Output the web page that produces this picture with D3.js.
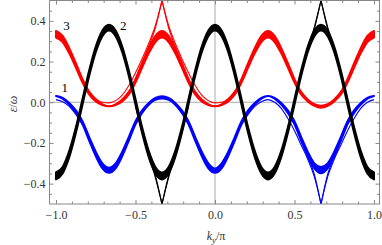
<html>
<head>
<script src="https://cdn.jsdelivr.net/npm/d3@7"></script>
<style>
  body { margin: 0; background: #fff; }
  svg text { font-family: "Liberation Serif", "DejaVu Serif", serif; }
</style>
</head>
<body>
<svg id="chart" width="382" height="245"></svg>
<script>
    // k_y/pi sample grid, step 1/24 from -1 to 1
    const kGrid = d3.range(49).map(i => -1 + i / 24)

    // band 2 (black): upper and lower edge of the bundle
    const blackHi = [-0.345,-0.318,-0.239,-0.123,0.016,0.156,0.274,0.353,0.381,0.353,0.274,0.156,0.016,-0.123,-0.239,-0.318,-0.345,
                     -0.318,-0.239,-0.123,0.016,0.156,0.274,0.353,0.381,0.353,0.274,0.156,0.016,-0.123,-0.239,-0.318,-0.345,
                     -0.318,-0.239,-0.123,0.016,0.156,0.274,0.353,0.381,0.353,0.274,0.156,0.016,-0.123,-0.239,-0.318,-0.345]
    const blackLo = [-0.379,-0.35,-0.27,-0.151,-0.012,0.128,0.246,0.325,0.353,0.325,0.246,0.128,-0.012,-0.151,-0.27,-0.35,-0.379,
                     -0.35,-0.27,-0.151,-0.012,0.128,0.246,0.325,0.353,0.325,0.246,0.128,-0.012,-0.151,-0.27,-0.35,-0.379,
                     -0.35,-0.27,-0.151,-0.012,0.128,0.246,0.325,0.353,0.325,0.246,0.128,-0.012,-0.151,-0.27,-0.35,-0.379]

    // band 3 (red)
    const redHi = [0.35,0.326,0.266,0.192,0.114,0.051,0.014,-0.01,-0.02,-0.01,0.014,0.051,0.114,0.192,0.266,0.326,0.35,
                   0.326,0.266,0.192,0.114,0.051,0.014,-0.01,-0.02,-0.01,0.014,0.051,0.114,0.192,0.266,0.326,0.35,
                   0.326,0.266,0.192,0.114,0.051,0.014,-0.01,-0.017,-0.01,0.014,0.051,0.114,0.192,0.266,0.326,0.35]
    const redLo = [0.318,0.296,0.24,0.17,0.097,0.038,0.004,-0.014,-0.02,-0.014,0.004,0.038,0.097,0.17,0.24,0.296,0.318,
                   0.296,0.24,0.17,0.097,0.038,0.004,-0.014,-0.02,-0.014,0.004,0.038,0.097,0.17,0.24,0.296,0.318,
                   0.296,0.24,0.17,0.097,0.038,0.004,-0.018,-0.027,-0.018,0.004,0.038,0.097,0.17,0.24,0.296,0.318]

    // band 1 (blue)
    const blueHi = [0.031,0.022,-0.003,-0.04,-0.093,-0.17,-0.243,-0.3,-0.322,-0.3,-0.243,-0.17,-0.093,-0.04,-0.003,0.021,0.03,
                    0.021,-0.003,-0.04,-0.093,-0.17,-0.243,-0.3,-0.325,-0.3,-0.243,-0.17,-0.093,-0.04,-0.003,0.022,0.031,
                    0.022,-0.003,-0.04,-0.093,-0.17,-0.243,-0.3,-0.318,-0.3,-0.243,-0.17,-0.093,-0.04,-0.003,0.022,0.031]
    const blueLo = [0.031,0.018,-0.012,-0.052,-0.108,-0.188,-0.265,-0.325,-0.347,-0.325,-0.265,-0.188,-0.108,-0.052,-0.012,0.012,0.018,
                    0.012,-0.012,-0.052,-0.108,-0.188,-0.265,-0.325,-0.347,-0.325,-0.265,-0.188,-0.108,-0.052,-0.012,0.018,0.031,
                    0.018,-0.012,-0.052,-0.108,-0.188,-0.265,-0.325,-0.349,-0.325,-0.265,-0.188,-0.108,-0.052,-0.012,0.018,0.031]

    // thin edge-state lines (pairs)
    const redEdgeK = kGrid.slice(4, 29)
    const redEdgeA = [0.11,0.055,0.018,0.0,-0.003,0.008,0.035,0.082,0.145,0.214,0.29,0.377,0.5,0.377,0.29,0.214,0.145,0.082,0.035,0.008,-0.003,0.0,0.018,0.055,0.11]
    const redEdgeB = [0.114,0.051,0.014,-0.01,-0.02,-0.01,0.014,0.052,0.115,0.195,0.275,0.365,0.5,0.365,0.275,0.195,0.115,0.052,0.014,-0.01,-0.02,-0.01,0.014,0.051,0.114]

    const blueEdgeK = kGrid.slice(28, 49)
    const blueEdgeA = [-0.11,-0.06,-0.02,0.003,0.013,0.0,-0.03,-0.08,-0.14,-0.21,-0.28,-0.367,-0.5,-0.367,-0.28,-0.21,-0.14,-0.08,-0.03,0.0,0.013]
    const blueEdgeB = [-0.108,-0.052,-0.012,0.018,0.031,0.018,-0.012,-0.052,-0.108,-0.188,-0.265,-0.355,-0.5,-0.355,-0.265,-0.188,-0.108,-0.052,-0.012,0.018,0.031]
    const blueWrapK = kGrid.slice(0, 5)
    const blueWrapA = [0.013,0.003,-0.02,-0.06,-0.11]
    const blueWrapB = [0.031,0.018,-0.012,-0.052,-0.108]

    const blackEdgeK1 = kGrid.slice(12, 21)
    const blackEdgeA1 = [-0.016,-0.15,-0.262,-0.37,-0.5,-0.37,-0.262,-0.15,-0.016]
    const blackEdgeB1 = [-0.005,-0.14,-0.25,-0.36,-0.5,-0.36,-0.25,-0.14,-0.005]
    const blackEdgeK2 = kGrid.slice(36, 45)
    const blackEdgeA2 = [0.016,0.15,0.262,0.37,0.5,0.37,0.262,0.15,0.016]
    const blackEdgeB2 = [0.005,0.14,0.25,0.36,0.5,0.36,0.25,0.14,0.005]

    const xMajor = [-1, -0.5, 0, 0.5, 1]
    const xMinor = [-0.9,-0.8,-0.7,-0.6,-0.4,-0.3,-0.2,-0.1,0.1,0.2,0.3,0.4,0.6,0.7,0.8,0.9]
    const yMajor = [-0.4, -0.2, 0, 0.2, 0.4]
    const yMinor = [-0.45,-0.35,-0.3,-0.25,-0.15,-0.1,-0.05,0.05,0.1,0.15,0.25,0.3,0.35,0.45]

    const curveLabels = [
        {text: "3", k: -0.955, e: 0.355},
        {text: "2", k: -0.597, e: 0.355},
        {text: "1", k: -0.966, e: 0.052}
    ]

    let svg = d3.select("#chart")
    let pLeft = 49.5, pRight = 379.5, pTop = 0.5, pBottom = 204
    let serif = "'Liberation Serif', 'DejaVu Serif', serif"

    let x = d3.scaleLinear().domain([-1, 1]).range([56, 374])
    let y = d3.scaleLinear().domain([-0.5, 0.5]).range([pBottom, pTop])

    svg.append("clipPath").attr("id", "clip")
        .append("rect").attr("x", pLeft).attr("y", 0)
        .attr("width", pRight - pLeft).attr("height", pBottom + 0.5)

    // zero lines
    svg.append("line").attr("x1", x(0)).attr("x2", x(0)).attr("y1", pTop).attr("y2", pBottom)
        .attr("stroke", "#aaa").attr("stroke-width", 1)
    svg.append("line").attr("x1", pLeft).attr("x2", pRight).attr("y1", y(0)).attr("y2", y(0))
        .attr("stroke", "#aaa").attr("stroke-width", 1)

    let plot = svg.append("g").attr("clip-path", "url(#clip)")

    function band(hi, lo, color) {
        let area = d3.area()
            .x((d, i) => x(kGrid[i]))
            .y0((d, i) => y(lo[i]))
            .y1((d, i) => y(hi[i]))
            .curve(d3.curveMonotoneX)
        plot.append("path").datum(hi)
            .attr("d", area)
            .attr("fill", color)
            .attr("stroke", color)
            .attr("stroke-width", 2)
            .attr("stroke-linejoin", "round")
    }

    function edge(ks, vals, color) {
        let pts = ks.map((k, i) => [k, vals[i]])
        let c = vals.findIndex(v => Math.abs(v) === 0.5)
        let parts = c < 0 ? [pts] : [pts.slice(0, c + 1), pts.slice(c)]
        let line = d3.line().x(d => x(d[0])).y(d => y(d[1])).curve(d3.curveMonotoneX)
        parts.forEach(p => {
            plot.append("path").attr("d", line(p))
                .attr("fill", "none").attr("stroke", color).attr("stroke-width", 1.1)
        })
    }

    band(blueHi, blueLo, "#0000ff")
    edge(blueEdgeK, blueEdgeA, "#0000ff")
    edge(blueEdgeK, blueEdgeB, "#0000ff")
    edge(blueWrapK, blueWrapA, "#0000ff")
    edge(blueWrapK, blueWrapB, "#0000ff")

    band(redHi, redLo, "#ff0000")
    edge(redEdgeK, redEdgeA, "#ff0000")
    edge(redEdgeK, redEdgeB, "#ff0000")

    band(blackHi, blackLo, "#000000")
    edge(blackEdgeK1, blackEdgeA1, "#000000")
    edge(blackEdgeK1, blackEdgeB1, "#000000")
    edge(blackEdgeK2, blackEdgeA2, "#000000")
    edge(blackEdgeK2, blackEdgeB2, "#000000")

    // frame
    svg.append("rect").attr("x", pLeft).attr("y", pTop)
        .attr("width", pRight - pLeft).attr("height", pBottom - pTop)
        .attr("fill", "none").attr("stroke", "#888").attr("stroke-width", 1)

    let fmt = d3.format(".1f")
    function axis(gen, tx, ty, vals, size, labels, pad) {
        let g = svg.append("g").attr("transform", `translate(${tx},${ty})`)
            .call(gen.tickValues(vals).tickSize(-size).tickPadding(pad || 3)
                .tickFormat(labels ? fmt : ""))
        g.attr("font-family", serif).attr("font-size", 12)
        g.select(".domain").remove()
        g.selectAll(".tick line").attr("stroke", "#888")
        g.selectAll(".tick text").attr("fill", "#333")
        return g
    }
    axis(d3.axisBottom(x), 0, pBottom, xMajor, 4, true, 6.5)
    axis(d3.axisBottom(x), 0, pBottom, xMinor, 2.5, false)
    axis(d3.axisTop(x), 0, pTop, xMajor, 4, false)
    axis(d3.axisTop(x), 0, pTop, xMinor, 2.5, false)
    axis(d3.axisLeft(y), pLeft, 0, yMajor, 4, true, 4)
    axis(d3.axisLeft(y), pLeft, 0, yMinor, 2.5, false)
    axis(d3.axisRight(y), pRight, 0, yMajor, 4, false)
    axis(d3.axisRight(y), pRight, 0, yMinor, 2.5, false)

    // axis titles
    let yt = svg.append("text").attr("transform", "translate(16.5,104) rotate(-90)")
        .attr("text-anchor", "middle").attr("font-family", serif).attr("font-size", 12).attr("fill", "#333")
    yt.append("tspan").style("font-style", "italic").text("ε")
    yt.append("tspan").text("/")
    yt.append("tspan").style("font-style", "italic").text("ω")

    let xt = svg.append("text").attr("x", 216).attr("y", 239.5)
        .attr("text-anchor", "middle").attr("font-family", serif).attr("font-size", 12).attr("fill", "#333")
    xt.append("tspan").style("font-style", "italic").text("k")
    xt.append("tspan").style("font-style", "italic").attr("font-size", 9).attr("dy", 3).text("y")
    xt.append("tspan").attr("dy", -3).text("/π")

    svg.selectAll(".clabel").data(curveLabels).enter().append("text")
        .attr("class", "clabel")
        .attr("x", d => x(d.k)).attr("y", d => y(d.e))
        .attr("font-family", serif).attr("font-size", 13).attr("fill", "#000")
        .text(d => d.text)
</script>
</body>
</html>
